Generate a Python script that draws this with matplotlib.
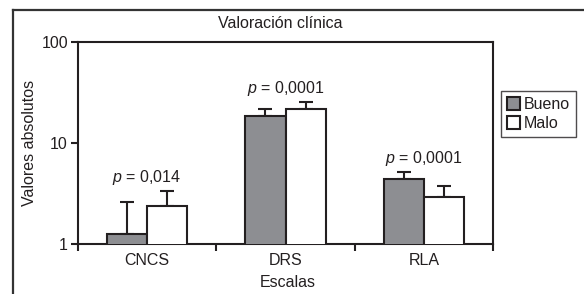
import matplotlib
matplotlib.use("Agg")
import matplotlib.pyplot as plt
import numpy as np
from matplotlib.lines import Line2D
from matplotlib.ticker import FixedLocator, NullLocator

# data (log scale)
categories = ["CNCS", "DRS", "RLA"]
bueno = [1.25, 18.7, 4.38]
bueno_err = [1.34, 3.1, 0.83]      # upper error only
malo = [2.40, 21.8, 2.90]
malo_err = [0.95, 3.6, 0.89]
p_labels = ["0,014", "0,0001", "0,0001"]

INK = "#231f20"
GRAY = "#8d8e92"

plt.rcParams["font.family"] = ["Liberation Sans", "DejaVu Sans"]
plt.rcParams["mathtext.fontset"] = "custom"
plt.rcParams["mathtext.it"] = "Liberation Sans:italic"
plt.rcParams["mathtext.rm"] = "Liberation Sans"
plt.rcParams["text.color"] = INK

W, H = 584, 294
fig = plt.figure(figsize=(W / 100, H / 100), dpi=100)
ax = fig.add_axes([77.7 / W, 1 - 244 / H, (493.3 - 77.7) / W, (244 - 42.3) / H])

x = np.arange(len(categories))
bw = 0.29
ax.bar(x - bw / 2, bueno, bw, color=GRAY, edgecolor=INK, lw=1.5,
       label="Bueno", zorder=3)
ax.bar(x + bw / 2, malo, bw, color="white", edgecolor=INK, lw=1.5,
       label="Malo", zorder=3)
ax.errorbar(x - bw / 2, bueno, yerr=[np.zeros(3), bueno_err], fmt="none",
            ecolor=INK, elinewidth=1.5, capsize=5, capthick=1.5, zorder=2)
ax.errorbar(x + bw / 2, malo, yerr=[np.zeros(3), malo_err], fmt="none",
            ecolor=INK, elinewidth=1.5, capsize=5, capthick=1.5, zorder=2)

# p-values above the highest error bar of each group
for i, lab in enumerate(p_labels):
    top = max(bueno[i] + bueno_err[i], malo[i] + malo_err[i])
    ax.annotate(r"$p$ = " + lab, (x[i], top), xytext=(0, 13.5),
                textcoords="offset pixels", ha="center", va="center",
                fontsize=11.5, color=INK)

ax.set_yscale("log")
ax.set_ylim(1, 100)
ax.set_xlim(-0.5, 2.5)
ax.yaxis.set_major_locator(FixedLocator([1, 10, 100]))
ax.yaxis.set_minor_locator(NullLocator())
ax.set_yticklabels(["1", "10", "100"])
ax.set_xticks(x)
ax.set_xticklabels(categories)
ax.set_xticks([-0.5, 0.5, 1.5, 2.5], minor=True)
ax.tick_params(axis="x", which="major", length=0, pad=6.5, labelsize=11.5,
               colors=INK)
ax.tick_params(axis="x", which="minor", length=5, width=1.5, color=INK)
ax.tick_params(axis="y", which="major", length=5, width=1.5, pad=2,
               labelsize=11.5, colors=INK)
for s in ax.spines.values():
    s.set_linewidth(1.5)
    s.set_color(INK)

fig.text(280.5 / W, 1 - 23.3 / H, "Valoración clínica", ha="center",
         va="center", fontsize=11.5)
fig.text(30 / W, 1 - 143 / H, "Valores absolutos", rotation=90, ha="center",
         va="center", fontsize=11.5)
fig.text(288 / W, 1 - 282.7 / H, "Escalas", ha="center", va="center",
         fontsize=11.5)

leg = fig.legend(loc="upper left", bbox_to_anchor=(501 / W, 1 - 90.7 / H),
                 fontsize=11.5, frameon=True, fancybox=False,
                 handlelength=0.8, handleheight=0.8, handletextpad=0.2,
                 borderpad=0.4, labelspacing=0.25, borderaxespad=0)
leg.get_frame().set_edgecolor(INK)
leg.get_frame().set_linewidth(1.0)

# outer frame (cropped at the right and bottom)
fig.add_artist(Line2D([13.3 / W, 13.3 / W], [1 - 10 / H, 0], color="#333333",
                      lw=1.6, transform=fig.transFigure))
fig.add_artist(Line2D([12.5 / W, 1], [1 - 10 / H, 1 - 10 / H], color="#333333",
                      lw=1.6, transform=fig.transFigure))

fig.savefig("out.png", dpi=100)
